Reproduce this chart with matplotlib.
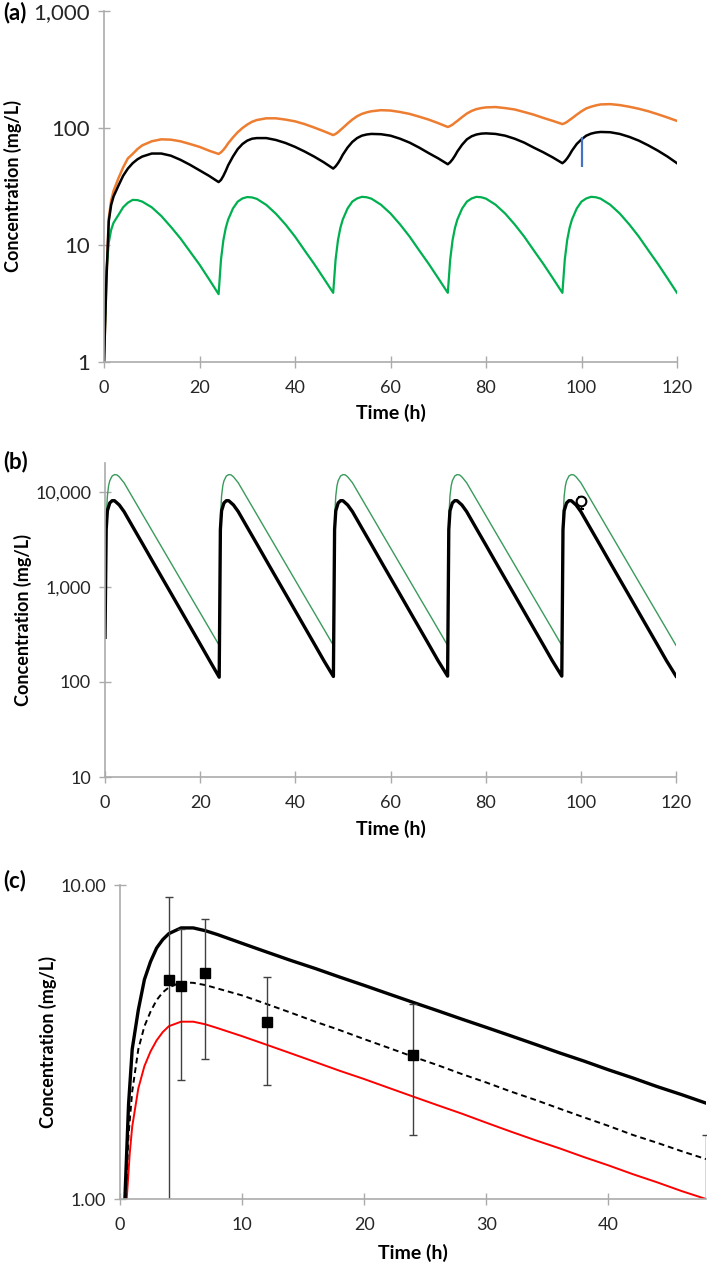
import matplotlib.pyplot as plt

plt.rcParams['font.family'] = ['Lato', 'DejaVu Sans']

# ---- panel (a) ----
time_a = [0, 0.5, 1, 1.5, 2, 3, 4, 5, 6, 7, 8, 10, 12, 14, 16, 18, 20, 22,
          24, 24.5, 25, 25.5, 26, 27, 28, 29, 30, 31, 32, 34, 36, 38, 40, 42, 44, 46,
          48, 48.5, 49, 49.5, 50, 51, 52, 53, 54, 55, 56, 58, 60, 62, 64, 66, 68, 70,
          72, 72.5, 73, 73.5, 74, 75, 76, 77, 78, 79, 80, 82, 84, 86, 88, 90, 92, 94,
          96, 96.5, 97, 97.5, 98, 99, 100, 101, 102, 103, 104, 106, 108, 110, 112, 114, 116, 118,
          120]
orange_a = [1, 5, 17, 24, 29, 37, 46, 55, 60, 66, 71, 77, 80, 79.5, 77, 73, 69, 64,
            60, 62, 65, 69, 74, 83, 92, 100, 107, 113, 117, 121, 121, 118, 114, 108, 101, 94,
            87, 89, 92, 96, 100, 109, 118, 126, 132, 136, 139, 142, 141, 137, 132, 125, 118, 110,
            102, 104, 107, 111, 115, 124, 133, 140, 145, 148, 150, 151, 148, 144, 137, 130, 122, 115,
            108, 110, 113, 117, 121, 130, 139, 147, 152, 156, 159, 160, 157, 152, 146, 139, 131, 123,
            115]
black_a = [1, 5, 16, 22, 26, 32, 39, 45, 50, 54, 57, 60.5, 60.5, 58, 53.5, 48.5, 43.5, 39,
           34.5, 36, 39, 43, 48, 57, 66, 73, 78, 81, 82, 82, 79, 74.5, 69, 63, 57, 51,
           45, 47, 50, 54, 59, 68, 76, 82, 86, 88, 89, 88.5, 86, 81, 75, 68, 61, 55,
           49, 51, 54, 58, 63, 72, 80, 85, 88, 89.5, 90, 89, 86, 81, 75, 68, 62, 56,
           50, 52, 55, 59, 64, 73, 80, 86, 89.5, 91.5, 92.5, 92, 89, 84, 78, 71, 64, 57,
           50]
green_a = [1, 6, 10.5, 13.5, 15.5, 18, 21, 23, 24.3, 24.2, 23.5, 21, 17.7, 14.3, 11.4, 8.8, 6.8, 5.1,
           3.8, 7.5, 11, 14, 16.5, 20.5, 23.5, 25, 25.7, 25.5, 24.8, 22, 18.5, 15, 11.8, 9, 6.9, 5.2,
           3.9, 7.5, 11, 14, 16.5, 20.5, 23.5, 25, 25.8, 25.6, 24.9, 22.1, 18.6, 15, 11.8, 9, 6.9, 5.2,
           3.9, 7.5, 11, 14, 16.5, 20.5, 23.5, 25, 25.8, 25.6, 24.9, 22.1, 18.6, 15, 11.8, 9, 6.9, 5.2,
           3.9, 7.5, 11, 14, 16.5, 20.5, 23.5, 25, 25.8, 25.6, 24.9, 22.1, 18.6, 15, 11.8, 9, 6.9, 5.2,
           3.9]
bar_a_t = 100
bar_a_lo = 46
bar_a_hi = 84

# ---- panel (b) ----
time_b = [0, 0.25, 0.5, 1, 1.5, 2, 3, 4, 6, 8, 10, 12, 14, 16, 18, 20, 22,
          24, 24.25, 24.5, 25, 25.5, 26, 27, 28, 30, 32, 34, 36, 38, 40, 42, 44, 46,
          48, 48.25, 48.5, 49, 49.5, 50, 51, 52, 54, 56, 58, 60, 62, 64, 66, 68, 70,
          72, 72.25, 72.5, 73, 73.5, 74, 75, 76, 78, 80, 82, 84, 86, 88, 90, 92, 94,
          96, 96.25, 96.5, 97, 97.5, 98, 99, 100, 102, 104, 106, 108, 110, 112, 114, 116, 118,
          120]
black_b = [294, 4000, 6300, 7600, 8030, 8030, 7240, 6170, 4130, 2770, 1850, 1240, 832, 557, 373, 250, 167,
           112, 4000, 6300, 7600, 8030, 8030, 7240, 6170, 4130, 2770, 1850, 1240, 832, 557, 373, 250, 167,
           114, 4000, 6300, 7600, 8030, 8030, 7240, 6170, 4130, 2770, 1850, 1240, 832, 557, 373, 250, 167,
           115, 4000, 6300, 7600, 8030, 8030, 7240, 6170, 4130, 2770, 1850, 1240, 832, 557, 373, 250, 167,
           115, 4000, 6300, 7600, 8030, 8030, 7240, 6170, 4130, 2770, 1850, 1240, 832, 557, 373, 250, 167,
           115]
time_b_green = [0.3, 0.5, 0.75, 1, 1.5, 2, 2.5, 3, 4, 6, 8, 10, 12, 14, 16, 18, 20, 22, 24,
                24.3, 24.5, 24.75, 25, 25.5, 26, 26.5, 27, 28, 30, 32, 34, 36, 38, 40, 42, 44, 46, 48,
                48.3, 48.5, 48.75, 49, 49.5, 50, 50.5, 51, 52, 54, 56, 58, 60, 62, 64, 66, 68, 70, 72,
                72.3, 72.5, 72.75, 73, 73.5, 74, 74.5, 75, 76, 78, 80, 82, 84, 86, 88, 90, 92, 94, 96,
                96.3, 96.5, 96.75, 97, 97.5, 98, 98.5, 99, 100, 102, 104, 106, 108, 110, 112, 114, 116, 118, 120]
green_b = [5800, 9000, 11500, 13000, 14600, 15100, 15000, 14300, 12400, 8360, 5640, 3800, 2565, 1730, 1167, 787, 532, 359, 242,
           5800, 9000, 11500, 13000, 14600, 15100, 15000, 14300, 12400, 8360, 5640, 3800, 2565, 1730, 1167, 787, 532, 359, 242,
           5800, 9000, 11500, 13000, 14600, 15100, 15000, 14300, 12400, 8360, 5640, 3800, 2565, 1730, 1167, 787, 532, 359, 242,
           5800, 9000, 11500, 13000, 14600, 15100, 15000, 14300, 12400, 8360, 5640, 3800, 2565, 1730, 1167, 787, 532, 359, 242,
           5800, 9000, 11500, 13000, 14600, 15100, 15000, 14300, 12400, 8360, 5640, 3800, 2565, 1730, 1167, 787, 532, 359, 242]
obs_b_t = [100]
obs_b_c = [8000]
obs_b_lo = [1500]
obs_b_hi = [800]

# ---- panel (c) ----
time_c_black = [0.4, 0.7, 1, 1.5, 2, 2.5, 3, 3.5, 4, 5, 6, 7, 8, 10, 12, 14, 16, 18, 20,
                22, 24, 26, 28, 30, 32, 34, 36, 38, 40, 42, 44, 46, 48]
black_c = [1.0, 2.0, 3.0, 4.0, 5.0, 5.7, 6.3, 6.7, 7.0, 7.3, 7.3, 7.15, 6.95, 6.52, 6.12, 5.75, 5.42, 5.09, 4.79,
           4.5, 4.23, 3.98, 3.74, 3.52, 3.31, 3.11, 2.92, 2.75, 2.58, 2.43, 2.28, 2.15, 2.02]
time_c_dash = [0.45, 0.7, 1, 1.5, 2, 2.5, 3, 3.5, 4, 5, 6, 7, 8, 10, 12, 14, 16, 18, 20,
               22, 24, 26, 28, 30, 32, 34, 36, 38, 40, 42, 44, 46, 48]
dash_c = [1.0, 1.6, 2.2, 3.0, 3.55, 3.95, 4.3, 4.55, 4.72, 4.9, 4.88, 4.8, 4.68, 4.45, 4.18, 3.92, 3.67, 3.45, 3.23,
          3.03, 2.84, 2.67, 2.5, 2.35, 2.2, 2.07, 1.94, 1.82, 1.71, 1.6, 1.51, 1.42, 1.34]
time_c_red = [0.55, 0.8, 1, 1.5, 2, 2.5, 3, 3.5, 4, 5, 6, 7, 8, 10, 12, 14, 16, 18, 20,
              22, 24, 26, 28, 30, 32, 34, 36, 38, 40, 42, 44, 46, 48]
red_c = [1.0, 1.4, 1.7, 2.25, 2.65, 2.95, 3.2, 3.4, 3.55, 3.67, 3.67, 3.6, 3.5, 3.3, 3.1, 2.91, 2.73, 2.56, 2.41,
         2.26, 2.12, 1.99, 1.87, 1.75, 1.64, 1.54, 1.45, 1.36, 1.28, 1.2, 1.13, 1.06, 1.0]
obs_c_t = [4, 5, 7, 12, 24, 48]
obs_c = [5.0, 4.78, 5.26, 3.67, 2.87, 0.9]
obs_c_lo = [0.5, 2.39, 2.79, 2.30, 1.6, 0.5]
obs_c_hi = [9.15, 7.22, 7.78, 5.08, 4.17, 1.6]

W, H = 709, 1265
fig = plt.figure(figsize=(W / 100, H / 100), dpi=100)

def box(l, t, r, b):
    return [l / W, 1 - b / H, (r - l) / W, (b - t) / H]

ax_a = fig.add_axes(box(104, 11, 677, 362))
ax_b = fig.add_axes(box(105, 463, 676, 777))
ax_c = fig.add_axes(box(120, 885, 706, 1199))

grey = '#ABABAB'
tick_col = '#262626'


def style(ax, xt, yt, ylabels, ysize=13):
    for s in ['top', 'right']:
        ax.spines[s].set_visible(False)
    for s in ['left', 'bottom']:
        ax.spines[s].set_color(grey)
        ax.spines[s].set_linewidth(1.2)
    ax.set_yscale('log')
    ax.set_xticks(xt)
    ax.set_yticks(yt)
    ax.set_yticklabels(ylabels)
    ax.minorticks_off()
    ax.tick_params(direction='inout', length=8, width=1, color=grey,
                   labelcolor=tick_col, labelsize=13)
    ax.tick_params(axis='y', labelsize=ysize, pad=6)
    ax.tick_params(axis='x', pad=9)


# (a)
ax_a.plot(time_a, orange_a, color='#ED7D31', lw=1.8)
ax_a.plot(time_a, green_a, color='#00B050', lw=1.6)
ax_a.plot(time_a, black_a, color='black', lw=1.8)
ax_a.vlines(bar_a_t, bar_a_lo, bar_a_hi, color='#4472C4', lw=1.6)
ax_a.set_xlim(0, 120)
ax_a.set_ylim(1, 1000)
style(ax_a, [0, 20, 40, 60, 80, 100, 120], [1, 10, 100, 1000], ['1', '10', '100', '1,000'], ysize=16)

# (b)
ax_b.plot(time_b_green, green_b, color='#3A9A5B', lw=1.0)
ax_b.plot(time_b, black_b, color='black', lw=2.4)
ax_b.errorbar(obs_b_t, obs_b_c, yerr=[obs_b_lo, obs_b_hi], fmt='o', ms=7,
              mfc='white', mec='black', mew=1.5, ecolor='black', elinewidth=1, capsize=2.5)
ax_b.set_xlim(0, 120)
ax_b.set_ylim(10, 20000)
style(ax_b, [0, 20, 40, 60, 80, 100, 120], [10, 100, 1000, 10000], ['10', '100', '1,000', '10,000'])

# (c)
ax_c.plot(time_c_red, red_c, color='#FF0000', lw=1.4)
ax_c.plot(time_c_dash, dash_c, color='black', lw=1.4, ls=(0, (3, 2)))
ax_c.plot(time_c_black, black_c, color='black', lw=2.4)
err_lo = [c - lo for c, lo in zip(obs_c, obs_c_lo)]
err_hi = [hi - c for c, hi in zip(obs_c, obs_c_hi)]
ax_c.errorbar(obs_c_t, obs_c, yerr=[err_lo, err_hi], fmt='s', ms=7, color='black',
              ecolor='#404040', elinewidth=1, capsize=3)
ax_c.set_xlim(0, 48)
ax_c.set_ylim(1, 10)
style(ax_c, [0, 10, 20, 30, 40], [1, 10], ['1.00', '10.00'])

# labels
for ax, xpix in [(ax_a, 12.5), (ax_b, 22.5), (ax_c, 47.5)]:
    pos = ax.get_position()
    fig.text(xpix / W, pos.y0 + pos.height / 2, 'Concentration (mg/L)', rotation=90,
             ha='center', va='center', fontsize=13, fontweight='bold')
for ypix, xc in [(413, 390.5), (829, 390.5), (1253, 413)]:
    fig.text(xc / W, 1 - ypix / H, 'Time (h)', ha='center', va='center',
             fontsize=14, fontweight='bold')
for ypix, lab in [(13, '(a)'), (462, '(b)'), (881, '(c)')]:
    fig.text(3 / W, 1 - ypix / H, lab, ha='left', va='center', fontsize=16, fontweight='bold')

fig.savefig('out.png', dpi=100)
